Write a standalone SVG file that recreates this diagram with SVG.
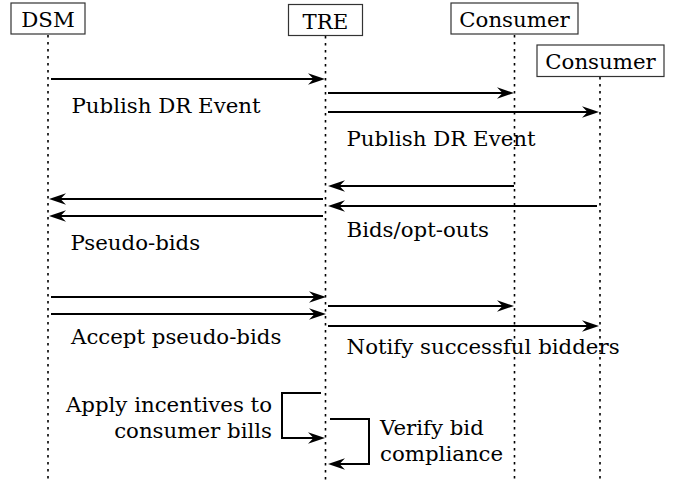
<svg xmlns="http://www.w3.org/2000/svg" width="678" height="483" viewBox="0 0 678 483">
<style>
text{font-family:"DejaVu Serif","Liberation Serif",serif;font-size:21.3px;fill:#000}
.box{fill:#fff;stroke:#333;stroke-width:1.2}
.life{stroke:#000;stroke-width:1.6;stroke-dasharray:2.5 4.5;fill:none}
.msg{stroke:#000;stroke-width:2;fill:none;marker-end:url(#ah)}
.end{text-anchor:end}
.mid{text-anchor:middle}
</style>
<defs>
<marker id="ah" viewBox="0 0 17 12" refX="9" refY="6" markerWidth="17" markerHeight="12" orient="auto" markerUnits="userSpaceOnUse">
<path d="M0,0.3 L17,6 L0,11.7 L5.5,6 Z" fill="#000"/>
</marker>
</defs>
<g id="lifelines">
<line class="life" x1="48" y1="35" x2="48" y2="481"/>
<line class="life" x1="325.5" y1="36" x2="325.5" y2="481"/>
<line class="life" x1="514.5" y1="35" x2="514.5" y2="481"/>
<line class="life" x1="600" y1="77" x2="600" y2="481"/>
</g>
<g id="DSM">
<rect class="box" x="11" y="3" width="74" height="31"/>
<text class="mid" x="48" y="27">DSM</text>
</g>
<g id="TRE">
<rect class="box" x="288.5" y="4.5" width="74" height="31"/>
<text class="mid" x="325.5" y="28.5">TRE</text>
</g>
<g id="Consumer1">
<rect class="box" x="451" y="3" width="127" height="31"/>
<text class="mid" x="514.5" y="27">Consumer</text>
</g>
<g id="Consumer2">
<rect class="box" x="537" y="45" width="127" height="31.5"/>
<text class="mid" x="600.5" y="69.3">Consumer</text>
</g>
<g id="connectors">
<line class="msg" x1="51" y1="79" x2="317" y2="79"/>
<line class="msg" x1="328" y1="93" x2="506" y2="93"/>
<line class="msg" x1="328" y1="112" x2="591" y2="112"/>
<line class="msg" x1="514" y1="186" x2="336" y2="186"/>
<line class="msg" x1="597" y1="206" x2="336" y2="206"/>
<line class="msg" x1="323" y1="199" x2="57" y2="199"/>
<line class="msg" x1="323" y1="216" x2="57" y2="216"/>
<line class="msg" x1="51" y1="297" x2="318" y2="297"/>
<line class="msg" x1="51" y1="314" x2="318" y2="314"/>
<line class="msg" x1="328" y1="306" x2="506" y2="306"/>
<line class="msg" x1="328" y1="326" x2="591" y2="326"/>
<path class="msg" d="M321,393 H282 V438 H317"/>
<path class="msg" d="M330,419 H369 V464 H336"/>
</g>
<g id="labels">
<text x="71.5" y="113">Publish DR Event</text>
<text x="346.5" y="146">Publish DR Event</text>
<text x="346.5" y="237">Bids/opt-outs</text>
<text x="70.5" y="250">Pseudo-bids</text>
<text x="71" y="344">Accept pseudo-bids</text>
<text x="346.5" y="354">Notify successful bidders</text>
<text class="end" x="272" y="412">Apply incentives to</text>
<text class="end" x="272" y="438">consumer bills</text>
<text x="380" y="435">Verify bid</text>
<text x="380" y="461">compliance</text>
</g>
</svg>
